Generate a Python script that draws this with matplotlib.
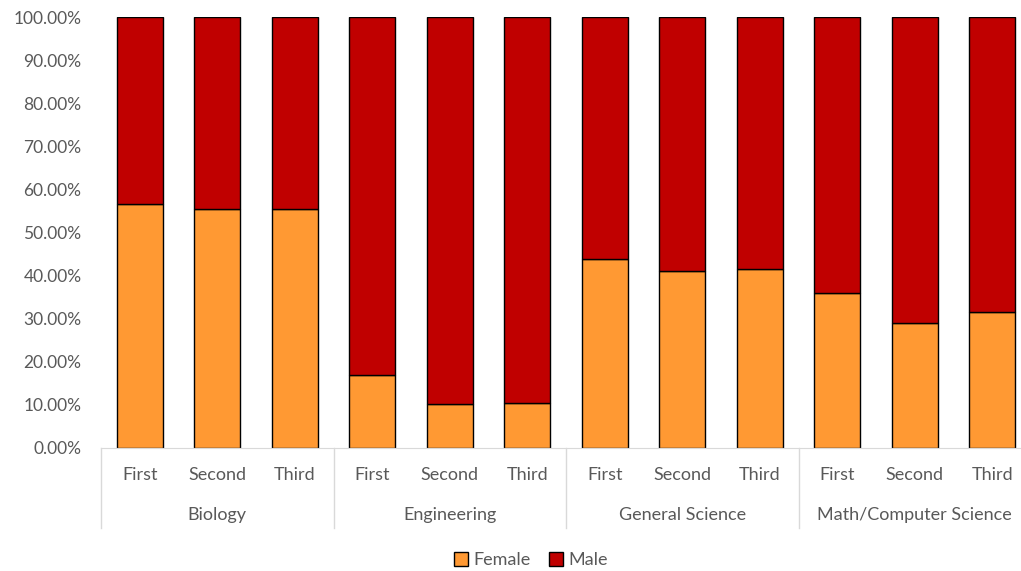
import numpy as np
import matplotlib
matplotlib.use('Agg')
import matplotlib.pyplot as plt
from matplotlib.ticker import PercentFormatter

subjects = ['Biology', 'Engineering', 'General Science', 'Math/Computer Science']
years = ['First', 'Second', 'Third']
female = [56.7, 55.5, 55.5,
          17.0, 10.1, 10.5,
          43.9, 41.1, 41.5,
          35.9, 29.1, 31.5]
male = [100 - f for f in female]

plt.rcParams['font.family'] = ['Lato', 'DejaVu Sans']
text_color = '#595959'

fig = plt.figure(figsize=(10.21, 5.71), dpi=100)
# the plot area runs a little past the right edge of the figure, as in the original
ax = fig.add_axes([101 / 1021, 1 - 448 / 571, 930 / 1021, 431 / 571])

index = np.arange(len(female))
bar_width = 0.59
ax.bar(index, female, bar_width, color='#FF9933', edgecolor='black', linewidth=1, label='Female')
ax.bar(index, male, bar_width, bottom=female, color='#C00000', edgecolor='black', linewidth=1, label='Male')

ax.set_xlim(-0.5, len(female) - 0.5)
ax.set_ylim(0, 100)
ax.set_yticks(np.arange(0, 101, 10))
ax.yaxis.set_major_formatter(PercentFormatter(decimals=2))
ax.tick_params(axis='y', length=0, labelsize=12.5, labelcolor=text_color, pad=14)
ax.set_xticks([])

for side in ['top', 'right', 'left']:
    ax.spines[side].set_visible(False)
ax.spines['bottom'].set_color('#d9d9d9')

trans = ax.get_xaxis_transform()
for i, label in enumerate(years * len(subjects)):
    ax.text(i, -0.063, label, transform=trans, ha='center', va='center',
            fontsize=13, color=text_color)
for g, name in enumerate(subjects):
    ax.text(g * 3 + 1, -0.155, name, transform=trans, ha='center', va='center',
            fontsize=13, color=text_color)
for g in range(len(subjects) + 1):
    ax.plot([g * 3 - 0.5, g * 3 - 0.5], [0, -0.186], transform=trans,
            color='#d9d9d9', linewidth=1, clip_on=False)

fig.legend(loc='center', bbox_to_anchor=(0.52, 1 - 560 / 571), ncol=2, frameon=False,
           fontsize=13, labelcolor=text_color, handlelength=0.8, handleheight=0.8,
           handletextpad=0.3, columnspacing=1.0)

fig.savefig('out.png', dpi=100)
